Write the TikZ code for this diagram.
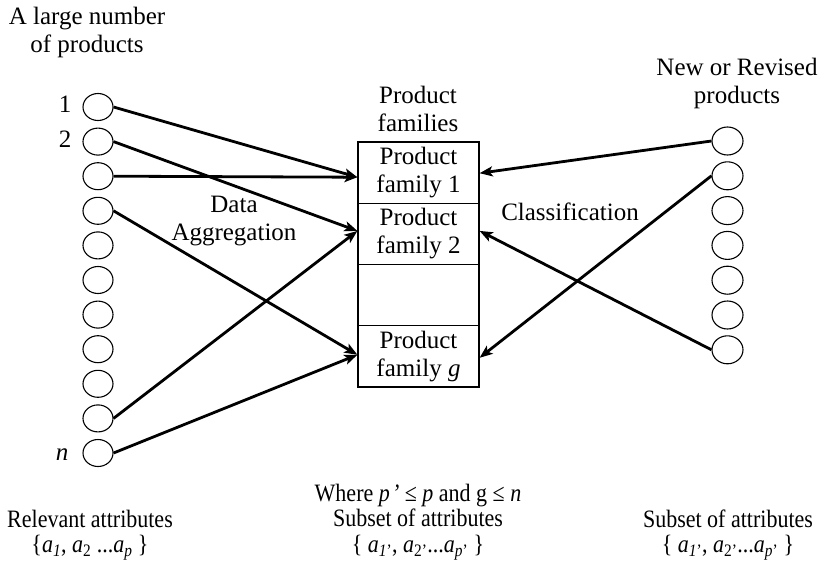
\documentclass[tikz,border=0pt]{standalone}
\usepackage{fontspec}
\usepackage{graphicx}
\setmainfont{Liberation Serif}
\usetikzlibrary{shapes.geometric,arrows.meta}
\newcommand{\cond}[1]{\scalebox{0.88}[1]{#1}}
\begin{document}
\begin{tikzpicture}[x=1pt,y=-1pt,
  every node/.style={font=\fontsize{25}{28}\selectfont},
  prod/.style={ellipse,draw,line width=1.1pt,inner sep=0pt,minimum width=30pt,minimum height=27pt},
  cell/.style={rectangle,draw,line width=1.2pt,minimum width=121pt,minimum height=61.25pt,inner sep=0pt,align=center},
  lbl/.style={align=center,inner sep=0pt},
  btm/.style={align=center,inner sep=0pt,font=\fontsize{25}{25.5}\selectfont},
  conn/.style={line width=2.8pt,-{Stealth[length=13pt,width=10pt,inset=3pt]}}
]
\useasboundingbox (0,0) rectangle (825,563);

% left products
\foreach \i in {1,...,11}{
  \node[prod] (L\i) at (98,{107+(\i-1)*34.6}) {};
}
% right products
\foreach \i in {1,...,7}{
  \node[prod,minimum width=31pt,minimum height=28pt] (R\i) at (727.5,{141+(\i-1)*34.8}) {};
}

% box cells
\node[cell] (C1) at (418.5,172.6) {Product\\family 1};
\node[cell] (C2) at (418.5,233.9) {Product\\family 2};
\node[cell] (C3) at (418.5,295.1) {};
\node[cell] (C4) at (418.5,356.4) {Product\\family \textit{g}};

% labels
\node[lbl] (t1) at (87,32) {A large number\\of products};
\node[lbl] (t2) at (418,109) {Product\\families};
\node[lbl] (t3) at (737,83) {New or Revised\\products};
\node[lbl] (n1) at (65,104) {1};
\node[lbl] (n2) at (65,139) {2};
\node[lbl] (nn) at (62,455) {\textit{n}};
\node[lbl] (da) at (234,221) {Data\\Aggregation};
\node[lbl] (cl) at (570,212) {Classification};

\node[btm] (bm) at (418,522) {\cond{Where \textit{p\kern0.1em’} ≤ \textit{p} and g ≤ \textit{n}}\\
  \cond{Subset of attributes}\\
  \cond{\{ \textit{a}\textsubscript{\textit{1}’}, \textit{a}\textsubscript{2’}...\textit{a}\textsubscript{\textit{p}’} \}}};
\node[btm] (bl) at (90,535) {\cond{Relevant attributes}\\
  \cond{\{\textit{a}\textsubscript{\textit{1}}, \textit{a}\textsubscript{2} ...\textit{a}\textsubscript{\textit{p}} \}}};
\node[btm] (br) at (728,535) {\cond{Subset of attributes}\\
  \cond{\{ \textit{a}\textsubscript{\textit{1}’}, \textit{a}\textsubscript{2’}...\textit{a}\textsubscript{\textit{p}’} \}}};

% connectors left
\coordinate (C1w) at ([yshift=-4.6pt]C1.west);
\coordinate (C2w) at ([yshift=3pt]C2.west);
\coordinate (C4w) at ([yshift=1.6pt]C4.west);
\draw[conn] (L1.east) -- (C1w);
\draw[conn] (L3.east) -- (C1w);
\draw[conn] (L2.east) -- (C2w);
\draw[conn] (L4.east) -- (C4w);
\draw[conn] (L10.east) -- (C2w);
\draw[conn] (L11.east) -- (C4w);

% connectors right
\coordinate (C1e) at ([yshift=-0.6pt]C1.east);
\coordinate (C2e) at ([yshift=3pt]C2.east);
\coordinate (C4e) at ([yshift=-1.4pt]C4.east);
\draw[conn] (R1.west) -- (C1e);
\draw[conn] (R7.west) -- (C2e);
\draw[conn] (R2.west) -- (C4e);
\end{tikzpicture}
\end{document}
